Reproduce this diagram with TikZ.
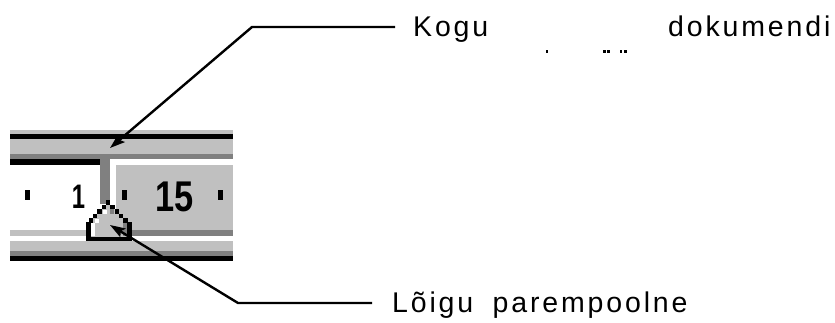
\documentclass[tikz,border=0pt]{standalone}
\usepackage{fontspec}
\usepackage{graphicx}
\setmainfont{Liberation Sans}
\newfontfamily\calloutfont[LetterSpace=10,WordSpace=1.8]{Liberation Sans}
\usetikzlibrary{arrows.meta}
\definecolor{winlight}{gray}{0.753}
\definecolor{windark}{gray}{0.502}

\begin{document}
\begin{tikzpicture}[x=1pt,y=-1pt,
  pointer/.style={line width=2.4pt, line join=miter,
    -{Stealth[length=15pt,width=10pt,inset=2.5pt]}},
  calloutlabel/.style={inner sep=0pt, anchor=base west,
    font=\calloutfont\fontsize{28.5}{34}\selectfont},
  rulernum/.style={inner sep=0pt, anchor=center,
    font=\bfseries\fontsize{34}{38}\selectfont},
  tick/.style={fill=black, draw=none}]

\useasboundingbox (0,0) rectangle (835,322);

% ---- ruler strip ----
\fill[winlight] (10,129.5) rectangle (233,134);
\fill[black]    (10,134)   rectangle (233,139);
\fill[winlight] (10,139)   rectangle (233,154);
\fill[windark]  (10,154)   rectangle (233,159);
\fill[black]    (10,159)   rectangle (100,165);
\fill[white]    (10,165)   rectangle (100,230);
\fill[white]    (110,159)  rectangle (233,165);
\fill[white]    (110,159)  rectangle (116,208);
\fill[winlight] (116,165)  rectangle (233,230);
\fill[windark]  (100,154)  rectangle (110,204);
\fill[winlight] (10,230)   rectangle (233,236);
\fill[windark]  (130,230)  rectangle (233,236);
\fill[white]    (10,236)   rectangle (233,241);
\fill[winlight] (10,241)   rectangle (233,251);
\fill[windark]  (10,251)   rectangle (233,256);
\fill[black]    (10,256)   rectangle (233,261);

% ruler ticks and numbers
\fill[tick] (25,190) rectangle (30,200);
\fill[tick] (122,190) rectangle (127,200);
\fill[tick] (218,190) rectangle (223,200);
\node[rulernum] (numone) at (78.5,196.5) {\scalebox{0.7}[1]{1}};
\node[rulernum, font=\bfseries\fontsize{43}{48}\selectfont] (numfifteen) at (175,196.5) {\scalebox{0.8}[1]{15}};

% right indent marker, drawn pixel by pixel
\fill[winlight] (108,203) -- (89,222) -- (89,237) -- (129,237) -- (129,222) -- cycle;
\fill[white] (90.5,223) rectangle (94.5,236);
\fill[white] (94.5,218.5) rectangle (98.5,223);
\fill[white] (102.5,209.5) rectangle (106.5,214);
\fill[windark] (110,205) rectangle (114,214);
\fill[windark] (123,222.5) rectangle (127,236);
\foreach \i in {0,...,4} {
  \fill (106-4.3*\i,200+4.5*\i) rectangle (110.3-4.3*\i,204.5+4.5*\i);
  \fill (106+4.3*\i,200+4.5*\i) rectangle (110.3+4.3*\i,204.5+4.5*\i);
}
\fill (86,222) rectangle (90.5,241);
\fill (127,222) rectangle (131.5,241);
\fill (86,236.5) rectangle (131.5,241);

% ---- callouts ----
\coordinate (septip) at (110,148);
\coordinate (markertip) at (110,225);
\coordinate (kogustart) at (395,27);
\coordinate (kogubend) at (252,27);
\coordinate (loigustart) at (372,303);
\coordinate (loigubend) at (238,303);

\node[calloutlabel] (kogu) at (413,36) {Kogu};
\node[calloutlabel] (dokumendi) at (668,36) {dokumendi};
\node[calloutlabel] (loigu) at (392,312) {Lõigu parempoolne};

% stray marks on the second line
\fill (545.5,49.8) rectangle (548.3,52.5);
\fill (603,49.8) rectangle (605.8,52.5);
\fill (607,49.8) rectangle (609.8,52.5);
\fill (619.5,49.8) rectangle (622.3,52.5);
\fill (623.7,49.8) rectangle (626.5,52.5);

\draw[pointer] (kogustart) -- (kogubend) -- (septip);
\draw[pointer] (loigustart) -- (loigubend) -- (markertip);

\end{tikzpicture}
\end{document}
